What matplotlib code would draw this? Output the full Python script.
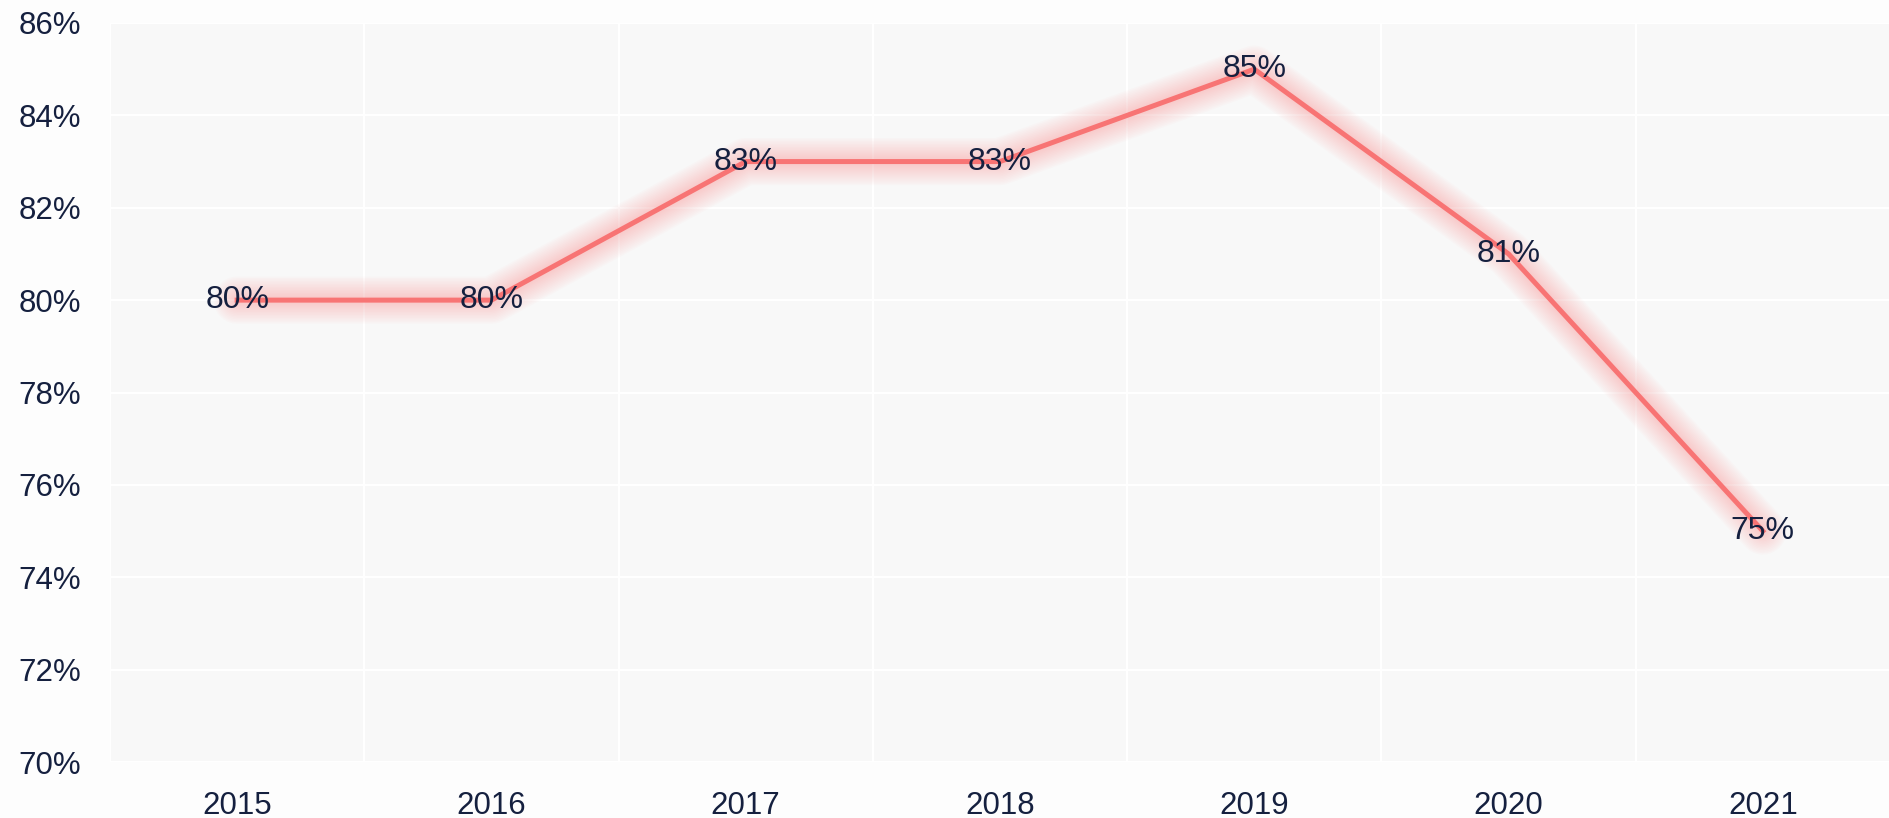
import numpy as np
import matplotlib
matplotlib.use("Agg")
import matplotlib.pyplot as plt

years = ["2015", "2016", "2017", "2018", "2019", "2020", "2021"]
rates = [80, 80, 83, 83, 85, 81, 75]
y_ticks = [70, 72, 74, 76, 78, 80, 82, 84, 86]

plt.rcParams['font.family'] = ['Liberation Sans', 'DejaVu Sans']
text_color = "#15203f"
line_color = "#f87474"

fig = plt.figure(figsize=(18.9, 8.18), dpi=100, facecolor="#fdfdfd")
ax = fig.add_axes([110 / 1890, 1 - 762 / 818, 1 - 110 / 1890, (762 - 23) / 818])
ax.set_facecolor("#f8f8f8")

x = np.arange(len(years))

# soft glow under the line
for lw in np.linspace(34, 6, 14):
    ax.plot(x, rates, color=line_color, linewidth=lw, alpha=0.025,
            solid_capstyle="round", solid_joinstyle="round", zorder=2)
ax.plot(x, rates, color=line_color, linewidth=3.6, zorder=3)

for xi, v in zip(x, rates):
    ax.text(xi, v, f"{v}%", ha="center", va="center", fontsize=23,
            color=text_color, zorder=4)

ax.set_xlim(-0.5, len(years) - 0.5)
ax.set_ylim(70, 86)
ax.set_xticks(x)
ax.set_xticklabels(years)
ax.set_yticks(y_ticks)
ax.set_yticklabels([f"{t}%" for t in y_ticks])
ax.tick_params(axis="both", length=0, labelsize=22.5, labelcolor=text_color)
ax.tick_params(axis="y", pad=21)
ax.tick_params(axis="x", pad=21)

# grid: horizontal at ticks, vertical between categories
ax.set_xticks(np.arange(len(years) + 1) - 0.5, minor=True)
ax.grid(axis="y", which="major", color="white", linewidth=1.5, zorder=1)
ax.grid(axis="x", which="minor", color="white", linewidth=1.5, zorder=1)
ax.tick_params(axis="x", which="minor", length=0)
ax.set_axisbelow(True)
for s in ax.spines.values():
    s.set_visible(False)

fig.savefig("out.png", dpi=100, facecolor=fig.get_facecolor())
